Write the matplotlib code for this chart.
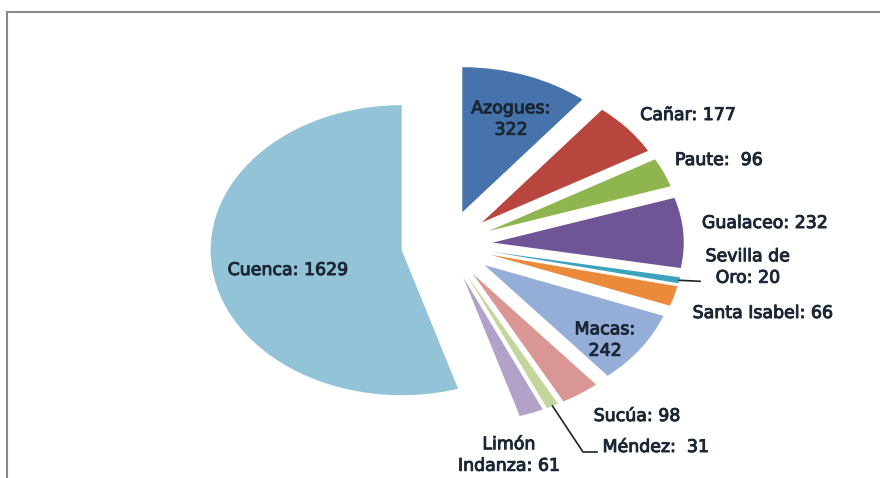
import numpy as np
import matplotlib
matplotlib.use("Agg")
from matplotlib import pyplot as plt
from matplotlib.patches import Rectangle
import matplotlib.patheffects as pe

cantones = ["Azogues", "Cañar", "Paute", "Gualaceo", "Sevilla de Oro",
            "Santa Isabel", "Macas", "Sucúa", "Méndez", "Limón Indanza", "Cuenca"]
valores = [322, 177, 96, 232, 20, 66, 242, 98, 31, 61, 1629]
etiquetas = ["Azogues:\n322", "Cañar: 177", "Paute:  96", "Gualaceo: 232",
             "Sevilla de\nOro: 20", "Santa Isabel: 66", "Macas:\n242",
             "Sucúa: 98", "Méndez:  31", "Limón\nIndanza: 61", "Cuenca: 1629"]
colores = ["#4673AC", "#B9453F", "#8FB54E", "#6F5496", "#3DA2BE", "#EC8A3C",
           "#95AED7", "#D99694", "#C3D69B", "#B2A1C8", "#93C3D6"]

W, H = 880, 478
CX, CY = 447, 245      # centro del pastel en pixeles
RX, RY = 191, 145      # radio horizontal / vertical en pixeles

# posiciones de las etiquetas (pixeles, centro del texto)
pos_etiquetas = [(511, 119), (688, 115), (719, 160), (765, 223), (748, 267),
                 (763, 313), (605, 340), (637, 416), (656, 447), (509, 455),
                 (288, 270)]


def px(x, y):
    return (x - CX) / RX, (CY - y) / RY


fig = plt.figure(figsize=(W / 100, H / 100), dpi=100)
ax = fig.add_axes([0, 0, 1, 1])
wedges, _ = ax.pie(valores, colors=colores, startangle=90, counterclock=False,
                   explode=[0.24] * len(valores), radius=1,
                   wedgeprops=dict(linewidth=0))
ax.set_aspect("auto")
ax.set_xlim(-CX / RX, (W - CX) / RX)
ax.set_ylim((CY - H) / RY, CY / RY)
ax.axis("off")

grueso = [pe.withStroke(linewidth=0.7, foreground="#1C2735")]
for lab, (x, y) in zip(etiquetas, pos_etiquetas):
    tx, ty = px(x, y)
    ax.text(tx, ty, lab, ha="center", va="center", fontsize=12.5,
            family="DejaVu Sans", color="#1C2735", linespacing=1.25,
            path_effects=grueso)


def punta(w, frac=0.5):
    ang = np.deg2rad(w.theta1 + (w.theta2 - w.theta1) * frac)
    return w.center[0] + w.r * np.cos(ang), w.center[1] + w.r * np.sin(ang)


# lineas guia
sx, sy = punta(wedges[4])
ex, ey = px(700, sy * -RY + CY + 1)
ax.plot([sx, ex], [sy, ey], color="#222222", lw=1.2)

mx, my = punta(wedges[8])
kx, ky = px(583, 452)
ex, ey = px(597, 452)
ax.plot([mx, kx, ex], [my, ky, ey], color="#222222", lw=1.2)

# marco
fig.patches.append(Rectangle((7 / W, -0.1), 1.2, (H - 12) / H + 0.1,
                             transform=fig.transFigure, fill=False,
                             edgecolor="#8a8a8a", lw=1.5))

fig.savefig("out.png", dpi=100, facecolor="white")
